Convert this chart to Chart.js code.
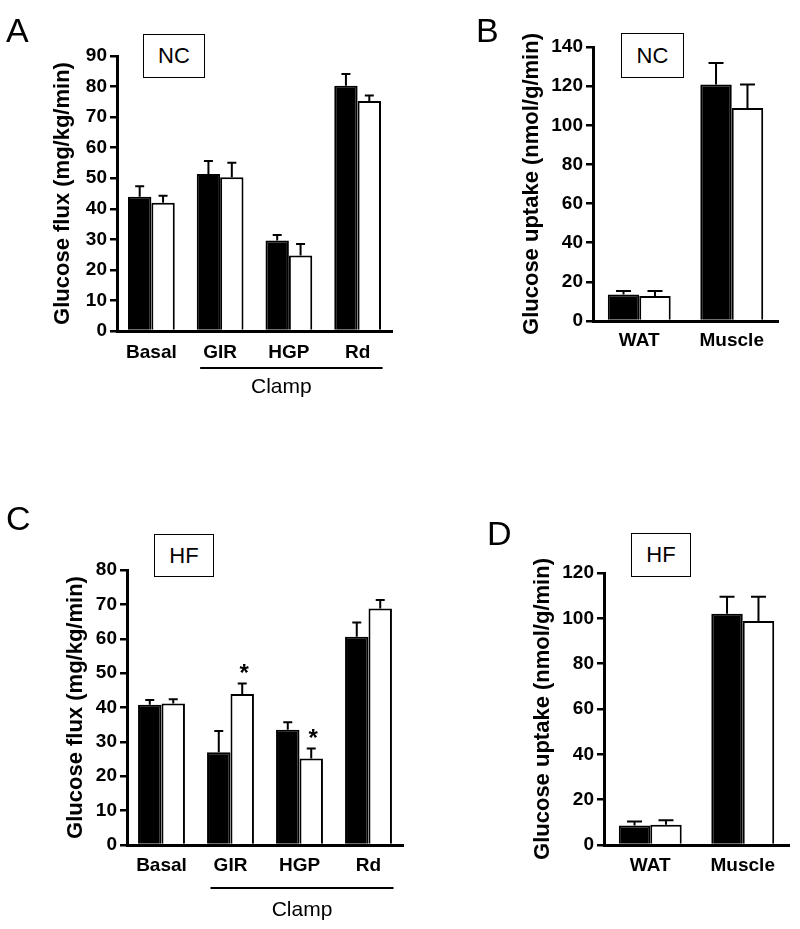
<!DOCTYPE html>
<html>
<head>
<meta charset="utf-8">
<script src="https://cdn.jsdelivr.net/npm/chart.js@4/dist/chart.umd.min.js"></script>
<style>
  html, body { margin: 0; padding: 0; background: #fff; }
  #page { position: relative; width: 800px; height: 929px; overflow: hidden; font-family: "Liberation Sans", Arial, sans-serif; }
  canvas { position: absolute; left: 0; top: 0; }
  .letter { position: absolute; font-size: 34px; line-height: 34px; color: #000; }
  .tag { position: absolute; box-sizing: border-box; border: 1.5px solid #000; display: flex; align-items: center; justify-content: center; font-size: 22px; color: #000; background: #fff; }
</style>
</head>
<body>
<div id="page">
  <canvas id="cA" width="800" height="929"></canvas>
  <canvas id="cB" width="800" height="929"></canvas>
  <canvas id="cC" width="800" height="929"></canvas>
  <canvas id="cD" width="800" height="929"></canvas>
  <div class="letter" style="left:6px;top:13px;">A</div>
  <div class="letter" style="left:476px;top:13px;">B</div>
  <div class="letter" style="left:6px;top:501px;">C</div>
  <div class="letter" style="left:487px;top:516px;">D</div>
  <div class="tag" style="left:143px;top:34px;width:62px;height:44px;">NC</div>
  <div class="tag" style="left:621px;top:33px;width:63px;height:45px;">NC</div>
  <div class="tag" style="left:154px;top:534px;width:60px;height:43px;">HF</div>
  <div class="tag" style="left:631px;top:533px;width:60px;height:44px;">HF</div>
</div>
<script>
// ---------- data ----------
const fluxCategories = ['Basal', 'GIR', 'HGP', 'Rd'];
const uptakeCategories = ['WAT', 'Muscle'];

const ncFluxBlack    = [43.9, 51.4, 29.6, 80.3];
const ncFluxBlackErr = [3.5, 4.2, 1.8, 3.8];
const ncFluxWhite    = [42.0, 50.3, 24.7, 75.3];
const ncFluxWhiteErr = [2.3, 4.8, 3.8, 1.8];

const ncUptakeBlack    = [13.5, 120.9];
const ncUptakeBlackErr = [1.8, 10.9];
const ncUptakeWhite    = [12.8, 108.8];
const ncUptakeWhiteErr = [2.5, 12.0];

const hfFluxBlack    = [40.8, 27.0, 33.5, 60.6];
const hfFluxBlackErr = [1.4, 6.2, 2.2, 4.1];
const hfFluxWhite    = [41.2, 43.9, 25.2, 68.8];
const hfFluxWhiteErr = [1.2, 3.1, 2.9, 2.5];
const hfFluxWhiteSig = ['', '*', '*', ''];

const hfUptakeBlack    = [8.6, 102.0];
const hfUptakeBlackErr = [1.8, 7.5];
const hfUptakeWhite    = [8.9, 98.8];
const hfUptakeWhiteErr = [2.0, 10.7];

const ncFluxTicks   = [0, 10, 20, 30, 40, 50, 60, 70, 80, 90];
const ncUptakeTicks = [0, 20, 40, 60, 80, 100, 120, 140];
const hfFluxTicks   = [0, 10, 20, 30, 40, 50, 60, 70, 80];
const hfUptakeTicks = [0, 20, 40, 60, 80, 100, 120];

const fluxTitle   = 'Glucose flux (mg/kg/min)';
const uptakeTitle = 'Glucose uptake (nmol/g/min)';
const clampLabel  = 'Clamp';

// ---------- plugins ----------
const FONT = '"Liberation Sans", Arial, sans-serif';

const errorBars = {
  id: 'errorBars',
  afterDatasetsDraw(chart, args, opts) {
    const ctx = chart.ctx;
    const ys = chart.scales.y;
    chart.data.datasets.forEach((ds, di) => {
      const meta = chart.getDatasetMeta(di);
      meta.data.forEach((bar, i) => {
        const err = ds.errors ? ds.errors[i] : 0;
        const top = ys.getPixelForValue(ds.data[i] + err);
        ctx.save();
        ctx.strokeStyle = '#000';
        ctx.lineWidth = opts.lineWidth || 2;
        ctx.beginPath();
        ctx.moveTo(bar.x, bar.y);
        ctx.lineTo(bar.x, top);
        ctx.moveTo(bar.x - opts.cap / 2, top);
        ctx.lineTo(bar.x + opts.cap / 2, top);
        ctx.stroke();
        if (ds.marks && ds.marks[i]) {
          ctx.fillStyle = '#000';
          ctx.font = 'bold 24px ' + FONT;
          ctx.textAlign = 'center';
          ctx.textBaseline = 'alphabetic';
          ctx.fillText(ds.marks[i], bar.x + 2, top - 2);
        }
        ctx.restore();
      });
    });
  }
};

const yTitle = {
  id: 'yTitle',
  afterDraw(chart, args, opts) {
    if (!opts.text) return;
    const s = chart.scales.y;
    const ctx = chart.ctx;
    ctx.save();
    ctx.translate(opts.x, (s.top + s.bottom) / 2 + (opts.dy || 0));
    ctx.rotate(-Math.PI / 2);
    ctx.fillStyle = '#000';
    ctx.font = 'bold 22px ' + FONT;
    ctx.textAlign = 'center';
    ctx.textBaseline = 'middle';
    ctx.fillText(opts.text, 0, 0);
    ctx.restore();
  }
};

const bracket = {
  id: 'bracket',
  afterDraw(chart, args, opts) {
    if (!opts.text) return;
    const xs = chart.scales.x;
    const labels = chart.data.labels;
    const x0 = xs.getPixelForValue(labels.indexOf(opts.from)) - 20;
    const x1 = xs.getPixelForValue(labels.indexOf(opts.to)) + 25;
    const y = chart.chartArea.bottom + opts.lineOffset;
    const ctx = chart.ctx;
    ctx.save();
    ctx.strokeStyle = '#000';
    ctx.lineWidth = 2;
    ctx.beginPath();
    ctx.moveTo(x0, y);
    ctx.lineTo(x1, y);
    ctx.stroke();
    ctx.fillStyle = '#000';
    ctx.font = '21px ' + FONT;
    ctx.textAlign = 'center';
    ctx.textBaseline = 'middle';
    ctx.fillText(opts.text, (x0 + x1) / 2 + (opts.textShift || 0), chart.chartArea.bottom + opts.textOffset);
    ctx.restore();
  }
};

// ---------- builder ----------
const W = 800, H = 929, XH = 50;

function makePanel(id, p) {
  const ticks = p.ticks;
  new Chart(document.getElementById(id), {
    type: 'bar',
    data: {
      labels: p.labels,
      datasets: [
        { label: 'black', data: p.black, errors: p.blackErr, marks: p.blackSig,
          backgroundColor: '#000', borderColor: '#000', borderWidth: 2, borderSkipped: 'start' },
        { label: 'white', data: p.white, errors: p.whiteErr, marks: p.whiteSig,
          backgroundColor: '#fff', borderColor: '#000', borderWidth: 2, borderSkipped: 'start' }
      ]
    },
    options: {
      responsive: false,
      animation: false,
      devicePixelRatio: 1,
      datasets: { bar: { categoryPercentage: 0.68, barPercentage: 1.0 } },
      layout: { padding: { left: 0, top: p.area.top, right: W - p.area.right, bottom: H - p.area.bottom - XH } },
      plugins: {
        legend: { display: false },
        tooltip: { enabled: false },
        title: { display: false },
        errorBars: { cap: p.cap, lineWidth: 2 },
        yTitle: { text: p.title, x: p.titleX },
        bracket: p.bracket || {}
      },
      scales: {
        x: {
          z: 1,
          grid: { display: false, drawTicks: false },
          border: { display: true, color: '#000', width: 3 },
          ticks: { color: '#000', padding: p.xPad, font: { family: FONT, size: 19, weight: 'bold' } },
          afterFit: s => { s.height = XH; }
        },
        y: {
          z: 1,
          min: ticks[0],
          max: ticks[ticks.length - 1],
          afterBuildTicks: s => { s.ticks = ticks.map(v => ({ value: v })); },
          grid: { display: true, drawOnChartArea: false, drawTicks: true, tickLength: 7, color: '#000', lineWidth: 2.5 },
          border: { display: true, color: '#000', width: 3 },
          ticks: { color: '#000', padding: 3, font: { family: FONT, size: 19, weight: 'bold' } },
          afterFit: s => { s.width = p.area.left; }
        }
      }
    },
    plugins: [errorBars, yTitle, bracket]
  });
}

makePanel('cA', {
  labels: fluxCategories, black: ncFluxBlack, blackErr: ncFluxBlackErr,
  white: ncFluxWhite, whiteErr: ncFluxWhiteErr, ticks: ncFluxTicks,
  area: { left: 117, right: 392, top: 56, bottom: 331 }, cap: 9, xPad: 10,
  title: fluxTitle, titleX: 63,
  bracket: { text: clampLabel, from: 'GIR', to: 'Rd', lineOffset: 37, textOffset: 56, textShift: -10 }
});

makePanel('cB', {
  labels: uptakeCategories, black: ncUptakeBlack, blackErr: ncUptakeBlackErr,
  white: ncUptakeWhite, whiteErr: ncUptakeWhiteErr, ticks: ncUptakeTicks,
  area: { left: 593, right: 778, top: 47, bottom: 321 }, cap: 15, xPad: 8,
  title: uptakeTitle, titleX: 532
});

makePanel('cC', {
  labels: fluxCategories, black: hfFluxBlack, blackErr: hfFluxBlackErr,
  white: hfFluxWhite, whiteErr: hfFluxWhiteErr, whiteSig: hfFluxWhiteSig, ticks: hfFluxTicks,
  area: { left: 127, right: 403, top: 570, bottom: 845 }, cap: 9, xPad: 9,
  title: fluxTitle, titleX: 76,
  bracket: { text: clampLabel, from: 'GIR', to: 'Rd', lineOffset: 43, textOffset: 65, textShift: 0 }
});

makePanel('cD', {
  labels: uptakeCategories, black: hfUptakeBlack, blackErr: hfUptakeBlackErr,
  white: hfUptakeWhite, whiteErr: hfUptakeWhiteErr, ticks: hfUptakeTicks,
  area: { left: 604, right: 789, top: 573, bottom: 845 }, cap: 15, xPad: 9,
  title: uptakeTitle, titleX: 543
});
</script>
</body>
</html>
